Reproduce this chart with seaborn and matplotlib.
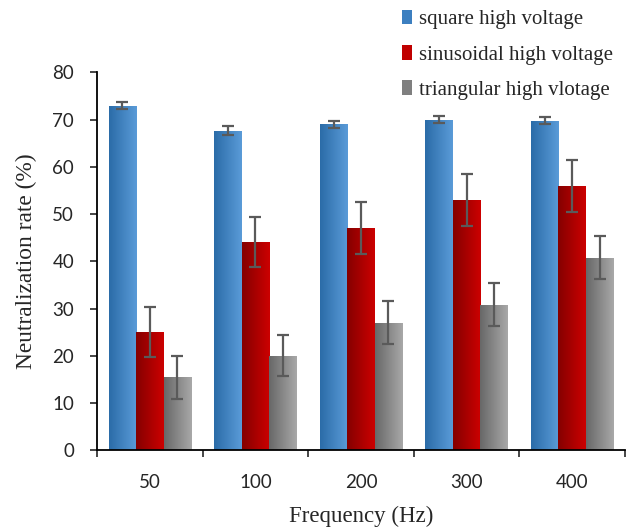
import numpy as np
import pandas as pd
import matplotlib
matplotlib.use("Agg")
import matplotlib.pyplot as plt
import seaborn as sns
from matplotlib.colors import LinearSegmentedColormap
from matplotlib.patches import Patch

frequencies = ["50", "100", "200", "300", "400"]
series = ["square high voltage", "sinusoidal high voltage", "triangular high vlotage"]
square_vals = [73.0, 67.7, 69.0, 70.0, 69.8]
square_err = [0.8, 1.0, 0.8, 0.8, 0.8]
sinus_vals = [25.0, 44.0, 47.0, 53.0, 56.0]
sinus_err = [5.3, 5.3, 5.5, 5.6, 5.5]
tri_vals = [15.4, 20.0, 27.0, 30.8, 40.8]
tri_err = [4.5, 4.3, 4.5, 4.6, 4.5]

colors_dark = ["#2B6CA8", "#850000", "#686868"]
colors_light = ["#5A9BD8", "#CC0000", "#A8A8A8"]
legend_colors = ["#3C7FC0", "#C00000", "#7F7F7F"]

df = pd.DataFrame({
    "Frequency": frequencies * 3,
    "Series": [s for s in series for _ in frequencies],
    "Value": square_vals + sinus_vals + tri_vals,
})
errs = square_err + sinus_err + tri_err

sns.set_style("white")
plt.rcParams["font.family"] = ["Liberation Serif", "DejaVu Serif"]

fig = plt.figure(figsize=(6.3, 5.29), dpi=100)
ax = fig.add_axes([0.154, 0.149, 0.838, 0.714])

sns.barplot(data=df, x="Frequency", y="Value", hue="Series", order=frequencies,
            hue_order=series, palette=legend_colors, width=0.78, errorbar=None,
            ax=ax, legend=False, linewidth=0, saturation=1)

ax.set_ylim(0, 80)
ax.set_xlim(-0.5, len(frequencies) - 0.5)

patches = [p for p in ax.patches]
grad = np.linspace(0, 1, 64).reshape(1, -1)
for i, p in enumerate(patches):
    s = i // len(frequencies)
    cmap = LinearSegmentedColormap.from_list("g%d" % s, [colors_dark[s], colors_light[s]])
    x0, y0 = p.get_x(), p.get_y()
    w, h = p.get_width(), p.get_height()
    im = ax.imshow(grad, extent=[x0, x0 + w, y0, y0 + h], cmap=cmap,
                   aspect="auto", origin="lower", zorder=p.get_zorder() + 0.1)
    im.set_clip_path(p)
    cx = x0 + w / 2
    ax.errorbar(cx, y0 + h, yerr=errs[i], color="#5A5A5A", elinewidth=1.6,
                capsize=4.5, capthick=1.6, zorder=5)

ax.set_ylim(0, 80)
ax.set_xlim(-0.5, len(frequencies) - 0.5)

for side in ["top", "right"]:
    ax.spines[side].set_visible(False)
for side in ["left", "bottom"]:
    ax.spines[side].set_color("black")
    ax.spines[side].set_linewidth(1.3)

ax.set_yticks(range(0, 81, 10))
ax.tick_params(axis="y", direction="out", length=5, width=1.2, left=True,
               labelsize=13.5, pad=11.5)
ax.set_xticks(range(len(frequencies)))
ax.set_xticklabels(frequencies)
ax.tick_params(axis="x", length=0, labelsize=13.5, pad=17)
ax.set_xticks(np.arange(-0.5, len(frequencies), 1.0), minor=True)
ax.tick_params(axis="x", which="minor", direction="out", length=5, width=1.2, bottom=True)
for lbl in ax.get_xticklabels() + ax.get_yticklabels():
    lbl.set_fontfamily(["Lato", "DejaVu Sans"])

ax.set_xlabel("Frequency (Hz)", fontsize=16.5, labelpad=11)
ax.set_ylabel("Neutralization rate (%)", fontsize=16.8, labelpad=11)

handles = [Patch(facecolor=c, edgecolor="none") for c in legend_colors]
fig.legend(handles, series, loc="upper left", bbox_to_anchor=(0.618, 1.005),
           frameon=False, fontsize=15, handlelength=0.5, handleheight=0.7,
           handletextpad=0.3, labelspacing=0.75, borderaxespad=0.2)

fig.savefig("out.png", dpi=100)
